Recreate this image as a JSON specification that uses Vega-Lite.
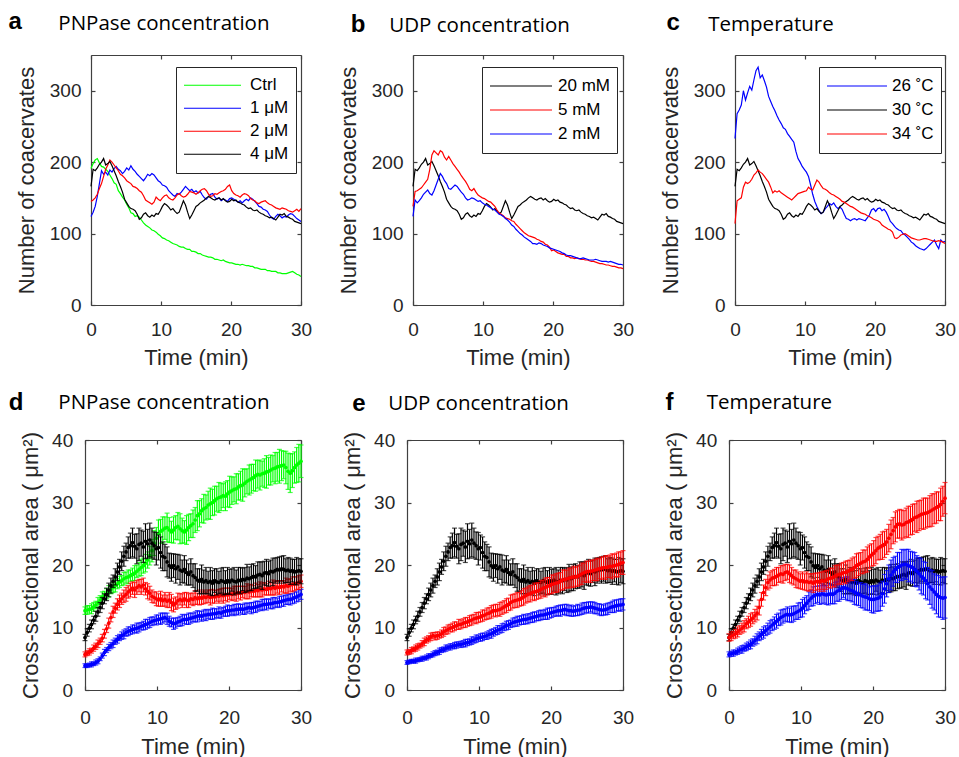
{
"$schema":"https://vega.github.io/schema/vega-lite/v6.json",
"background":"#ffffff",
"padding":{"left":8,"top":9,"right":5,"bottom":0},
"config":{
"view":{"stroke":null},
"axis":{"grid":false,"labelFont":"Liberation Sans","labelFontSize":19,"labelColor":"#262626","titleFont":"Liberation Sans","titleFontSize":22,"titleFontWeight":"normal","titleColor":"#262626","domainColor":"#404040","domainWidth":1.2,"tickColor":"#404040","tickWidth":1.2,"tickSize":-4,"labelFlush":false,"labelOverlap":false},
"title":{"font":"Open Sans","fontSize":20.5,"fontWeight":"normal","color":"#000000","anchor":"start","frame":"group","baseline":"alphabetic"},
"legend":{"orient":"none","symbolType":"stroke","symbolStrokeWidth":1.2,"labelFont":"Liberation Sans","labelFontSize":17,"labelColor":"#000000","strokeColor":"#262626","fillColor":"#ffffff","rowPadding":0,"padding":7},
"line":{"strokeWidth":1.2}
},
"datasets":{
"A":[{"t":0,"g":191,"b":124,"r":145},{"t":0.3,"g":198,"b":130,"r":147},{"t":0.6,"g":203,"b":138,"r":150},{"t":0.9,"g":205,"b":152,"r":155},{"t":1.2,"g":199,"b":170,"r":163},{"t":1.5,"g":194,"b":188,"r":170},{"t":1.8,"g":193,"b":183,"r":180},{"t":2.1,"g":190,"b":186,"r":190},{"t":2.4,"g":187,"b":182,"r":196},{"t":2.7,"g":182,"b":189,"r":203},{"t":3,"g":177,"b":186,"r":200},{"t":3.3,"g":171,"b":191,"r":196},{"t":3.6,"g":169,"b":194,"r":192},{"t":3.9,"g":160,"b":190,"r":188},{"t":4.2,"g":156,"b":188,"r":183},{"t":4.5,"g":151,"b":184,"r":181},{"t":4.8,"g":147,"b":187,"r":178},{"t":5.1,"g":141,"b":192,"r":174},{"t":5.4,"g":136,"b":189,"r":172},{"t":5.7,"g":129,"b":195,"r":170},{"t":6,"g":128,"b":190,"r":166},{"t":6.3,"g":124,"b":187,"r":165},{"t":6.6,"g":125,"b":183,"r":163},{"t":6.9,"g":123,"b":180,"r":160},{"t":7.2,"g":119,"b":177,"r":158},{"t":7.5,"g":115,"b":174,"r":153},{"t":7.8,"g":112,"b":178,"r":147},{"t":8.1,"g":110,"b":183,"r":145},{"t":8.4,"g":108,"b":181,"r":143},{"t":8.7,"g":105,"b":184,"r":141},{"t":9,"g":104,"b":182,"r":144},{"t":9.3,"g":102,"b":178,"r":151},{"t":9.6,"g":99,"b":174,"r":148},{"t":9.9,"g":97,"b":172,"r":146},{"t":10.2,"g":94,"b":168,"r":150},{"t":10.5,"g":93,"b":167,"r":153},{"t":10.8,"g":91,"b":165,"r":154},{"t":11.1,"g":90,"b":160,"r":150},{"t":11.4,"g":88,"b":157,"r":148},{"t":11.7,"g":86,"b":154,"r":147},{"t":12,"g":85,"b":152,"r":150},{"t":12.3,"g":84,"b":156,"r":154},{"t":12.6,"g":82,"b":155,"r":156},{"t":12.9,"g":81,"b":158,"r":153},{"t":13.2,"g":81,"b":162,"r":151},{"t":13.5,"g":79,"b":166,"r":152},{"t":13.8,"g":78,"b":163,"r":155},{"t":14.1,"g":78,"b":160,"r":159},{"t":14.4,"g":75,"b":162,"r":158},{"t":14.7,"g":75,"b":158,"r":157},{"t":15,"g":74,"b":160,"r":155},{"t":15.3,"g":72,"b":157,"r":157},{"t":15.6,"g":72,"b":159,"r":160},{"t":15.9,"g":70,"b":154,"r":162},{"t":16.2,"g":69,"b":150,"r":163},{"t":16.5,"g":68,"b":148,"r":160},{"t":16.8,"g":67,"b":152,"r":155},{"t":17.1,"g":67,"b":155,"r":152},{"t":17.4,"g":66,"b":156,"r":153},{"t":17.7,"g":64,"b":151,"r":156},{"t":18,"g":64,"b":148,"r":155},{"t":18.3,"g":63,"b":150,"r":157},{"t":18.6,"g":62,"b":146,"r":159},{"t":18.9,"g":63,"b":148,"r":160},{"t":19.2,"g":61,"b":147,"r":162},{"t":19.5,"g":60,"b":145,"r":166},{"t":19.8,"g":59,"b":149,"r":168},{"t":20.1,"g":59,"b":150,"r":160},{"t":20.4,"g":58,"b":148,"r":156},{"t":20.7,"g":57,"b":146,"r":154},{"t":21,"g":57,"b":144,"r":153},{"t":21.3,"g":56,"b":146,"r":151},{"t":21.6,"g":57,"b":143,"r":154},{"t":21.9,"g":56,"b":146,"r":156},{"t":22.2,"g":55,"b":148,"r":155},{"t":22.5,"g":55,"b":146,"r":153},{"t":22.8,"g":54,"b":150,"r":149},{"t":23.1,"g":54,"b":148,"r":147},{"t":23.4,"g":52,"b":145,"r":146},{"t":23.7,"g":52,"b":142,"r":143},{"t":24,"g":51,"b":138,"r":142},{"t":24.3,"g":50,"b":137,"r":144},{"t":24.6,"g":50,"b":134,"r":145},{"t":24.9,"g":50,"b":133,"r":146},{"t":25.2,"g":48,"b":131,"r":143},{"t":25.5,"g":48,"b":126,"r":141},{"t":25.8,"g":47,"b":122,"r":140},{"t":26.1,"g":47,"b":120,"r":138},{"t":26.4,"g":47,"b":124,"r":136},{"t":26.7,"g":45,"b":127,"r":135},{"t":27,"g":45,"b":125,"r":134},{"t":27.3,"g":44,"b":122,"r":136},{"t":27.6,"g":44,"b":124,"r":135},{"t":27.9,"g":44,"b":123,"r":134},{"t":28.2,"g":45,"b":126,"r":132},{"t":28.5,"g":46,"b":128,"r":131},{"t":28.8,"g":47,"b":127,"r":130},{"t":29.1,"g":45,"b":124,"r":132},{"t":29.4,"g":43,"b":121,"r":134},{"t":29.7,"g":42,"b":119,"r":131},{"t":30,"g":40,"b":117,"r":135}],
"B":[{"t":0,"r":138,"b":124},{"t":0.3,"r":159,"b":147},{"t":0.6,"r":160,"b":143},{"t":0.9,"r":162,"b":146},{"t":1.2,"r":164,"b":150},{"t":1.5,"r":168,"b":155},{"t":1.8,"r":172,"b":158},{"t":2.1,"r":176,"b":161},{"t":2.4,"r":190,"b":156},{"t":2.7,"r":210,"b":154},{"t":3,"r":216,"b":160},{"t":3.3,"r":213,"b":168},{"t":3.6,"r":210,"b":176},{"t":3.9,"r":216,"b":184},{"t":4.2,"r":214,"b":180},{"t":4.5,"r":207,"b":174},{"t":4.8,"r":203,"b":170},{"t":5.1,"r":208,"b":163},{"t":5.4,"r":203,"b":162},{"t":5.7,"r":198,"b":165},{"t":6,"r":194,"b":168},{"t":6.3,"r":190,"b":166},{"t":6.6,"r":186,"b":162},{"t":6.9,"r":181,"b":158},{"t":7.2,"r":177,"b":155},{"t":7.5,"r":173,"b":150},{"t":7.8,"r":168,"b":147},{"t":8.1,"r":162,"b":148},{"t":8.4,"r":160,"b":150},{"t":8.7,"r":163,"b":149},{"t":9,"r":158,"b":147},{"t":9.3,"r":154,"b":145},{"t":9.6,"r":152,"b":146},{"t":9.9,"r":150,"b":143},{"t":10.2,"r":149,"b":141},{"t":10.5,"r":147,"b":140},{"t":10.8,"r":145,"b":138},{"t":11.1,"r":144,"b":136},{"t":11.4,"r":141,"b":134},{"t":11.7,"r":138,"b":133},{"t":12,"r":133,"b":130},{"t":12.3,"r":129,"b":127},{"t":12.6,"r":127,"b":126},{"t":12.9,"r":125,"b":124},{"t":13.2,"r":122,"b":121},{"t":13.5,"r":121,"b":119},{"t":13.8,"r":120,"b":116},{"t":14.1,"r":118,"b":112},{"t":14.4,"r":117,"b":110},{"t":14.7,"r":113,"b":106},{"t":15,"r":110,"b":103},{"t":15.3,"r":107,"b":100},{"t":15.6,"r":104,"b":98},{"t":15.9,"r":101,"b":95},{"t":16.2,"r":99,"b":93},{"t":16.5,"r":97,"b":91},{"t":16.8,"r":96,"b":89},{"t":17.1,"r":95,"b":86},{"t":17.4,"r":94,"b":86},{"t":17.7,"r":92,"b":85},{"t":18,"r":91,"b":87},{"t":18.3,"r":89,"b":86},{"t":18.6,"r":88,"b":84},{"t":18.9,"r":85,"b":83},{"t":19.2,"r":84,"b":82},{"t":19.5,"r":81,"b":80},{"t":19.8,"r":76,"b":79},{"t":20.1,"r":77,"b":78},{"t":20.4,"r":75,"b":77},{"t":20.7,"r":73,"b":76},{"t":21,"r":72,"b":75},{"t":21.3,"r":71,"b":73},{"t":21.6,"r":71,"b":72},{"t":21.9,"r":68,"b":70},{"t":22.2,"r":68,"b":69},{"t":22.5,"r":66,"b":69},{"t":22.8,"r":66,"b":68},{"t":23.1,"r":65,"b":67},{"t":23.4,"r":66,"b":66},{"t":23.7,"r":65,"b":65},{"t":24,"r":64,"b":65},{"t":24.3,"r":64,"b":66},{"t":24.6,"r":63,"b":65},{"t":24.9,"r":63,"b":64},{"t":25.2,"r":62,"b":63},{"t":25.5,"r":61,"b":63},{"t":25.8,"r":61,"b":63},{"t":26.1,"r":60,"b":64},{"t":26.4,"r":59,"b":63},{"t":26.7,"r":58,"b":62},{"t":27,"r":58,"b":61},{"t":27.3,"r":57,"b":61},{"t":27.6,"r":56,"b":61},{"t":27.9,"r":56,"b":60},{"t":28.2,"r":55,"b":61},{"t":28.5,"r":54,"b":60},{"t":28.8,"r":54,"b":59},{"t":29.1,"r":53,"b":58},{"t":29.4,"r":52,"b":57},{"t":29.7,"r":52,"b":57},{"t":30,"r":51,"b":56}],
"C":[{"t":0,"b":233,"r":114},{"t":0.3,"b":268,"r":146},{"t":0.6,"b":273,"r":148},{"t":0.9,"b":280,"r":150},{"t":1.2,"b":300,"r":165},{"t":1.5,"b":287,"r":172},{"t":1.8,"b":297,"r":170},{"t":2.1,"b":306,"r":172},{"t":2.4,"b":301,"r":176},{"t":2.7,"b":315,"r":182},{"t":3,"b":328,"r":185},{"t":3.3,"b":333,"r":189},{"t":3.6,"b":318,"r":186},{"t":3.9,"b":322,"r":184},{"t":4.2,"b":314,"r":180},{"t":4.5,"b":305,"r":176},{"t":4.8,"b":292,"r":172},{"t":5.1,"b":285,"r":165},{"t":5.4,"b":278,"r":157},{"t":5.7,"b":272,"r":160},{"t":6,"b":265,"r":158},{"t":6.3,"b":259,"r":160},{"t":6.6,"b":254,"r":157},{"t":6.9,"b":248,"r":155},{"t":7.2,"b":246,"r":153},{"t":7.5,"b":240,"r":151},{"t":7.8,"b":236,"r":149},{"t":8.1,"b":232,"r":147},{"t":8.4,"b":228,"r":150},{"t":8.7,"b":215,"r":153},{"t":9,"b":205,"r":156},{"t":9.3,"b":200,"r":157},{"t":9.6,"b":194,"r":158},{"t":9.9,"b":190,"r":159},{"t":10.2,"b":186,"r":160},{"t":10.5,"b":180,"r":165},{"t":10.8,"b":168,"r":162},{"t":11.1,"b":155,"r":161},{"t":11.4,"b":145,"r":168},{"t":11.7,"b":138,"r":175},{"t":12,"b":132,"r":172},{"t":12.3,"b":128,"r":167},{"t":12.6,"b":130,"r":163},{"t":12.9,"b":135,"r":162},{"t":13.2,"b":138,"r":160},{"t":13.5,"b":142,"r":157},{"t":13.8,"b":140,"r":155},{"t":14.1,"b":143,"r":154},{"t":14.4,"b":138,"r":152},{"t":14.7,"b":135,"r":150},{"t":15,"b":137,"r":148},{"t":15.3,"b":134,"r":145},{"t":15.6,"b":127,"r":144},{"t":15.9,"b":121,"r":142},{"t":16.2,"b":120,"r":140},{"t":16.5,"b":118,"r":138},{"t":16.8,"b":120,"r":137},{"t":17.1,"b":121,"r":135},{"t":17.4,"b":119,"r":133},{"t":17.7,"b":121,"r":131},{"t":18,"b":120,"r":129},{"t":18.3,"b":119,"r":128},{"t":18.6,"b":118,"r":127},{"t":18.9,"b":122,"r":125},{"t":19.2,"b":126,"r":124},{"t":19.5,"b":133,"r":122},{"t":19.8,"b":135,"r":120},{"t":20.1,"b":131,"r":119},{"t":20.4,"b":135,"r":118},{"t":20.7,"b":136,"r":116},{"t":21,"b":132,"r":112},{"t":21.3,"b":134,"r":110},{"t":21.6,"b":130,"r":108},{"t":21.9,"b":124,"r":106},{"t":22.2,"b":117,"r":105},{"t":22.5,"b":114,"r":102},{"t":22.8,"b":110,"r":94},{"t":23.1,"b":107,"r":93},{"t":23.4,"b":105,"r":95},{"t":23.7,"b":104,"r":98},{"t":24,"b":100,"r":99},{"t":24.3,"b":98,"r":100},{"t":24.6,"b":95,"r":98},{"t":24.9,"b":92,"r":96},{"t":25.2,"b":88,"r":94},{"t":25.5,"b":86,"r":93},{"t":25.8,"b":83,"r":92},{"t":26.1,"b":81,"r":91},{"t":26.4,"b":79,"r":91},{"t":26.7,"b":78,"r":92},{"t":27,"b":77,"r":93},{"t":27.3,"b":79,"r":93},{"t":27.6,"b":82,"r":92},{"t":27.9,"b":85,"r":91},{"t":28.2,"b":88,"r":90},{"t":28.5,"b":91,"r":89},{"t":28.8,"b":84,"r":89},{"t":29.1,"b":79,"r":90},{"t":29.4,"b":91,"r":89},{"t":29.7,"b":88,"r":88},{"t":30,"b":89,"r":86}],
"KT":[{"t":0,"k":166},{"t":0.3,"k":190},{"t":0.6,"k":188},{"t":0.9,"k":192},{"t":1.2,"k":197},{"t":1.5,"k":200},{"t":1.8,"k":205},{"t":2.1,"k":196},{"t":2.4,"k":198},{"t":2.7,"k":201},{"t":3,"k":195},{"t":3.3,"k":188},{"t":3.6,"k":181},{"t":3.9,"k":173},{"t":4.2,"k":166},{"t":4.5,"k":158},{"t":4.8,"k":148},{"t":5.1,"k":143},{"t":5.4,"k":138},{"t":5.7,"k":135},{"t":6,"k":134},{"t":6.3,"k":132},{"t":6.6,"k":127},{"t":6.9,"k":120},{"t":7.2,"k":122},{"t":7.5,"k":127},{"t":7.8,"k":129},{"t":8.1,"k":125},{"t":8.4,"k":123},{"t":8.7,"k":126},{"t":9,"k":124},{"t":9.3,"k":128},{"t":9.6,"k":127},{"t":9.9,"k":132},{"t":10.2,"k":138},{"t":10.5,"k":142},{"t":10.8,"k":140},{"t":11.1,"k":137},{"t":11.4,"k":133},{"t":11.7,"k":135},{"t":12,"k":131},{"t":12.3,"k":128},{"t":12.6,"k":130},{"t":12.9,"k":138},{"t":13.2,"k":146},{"t":13.5,"k":140},{"t":13.8,"k":130},{"t":14.1,"k":121},{"t":14.4,"k":126},{"t":14.7,"k":132},{"t":15,"k":138},{"t":15.3,"k":140},{"t":15.6,"k":143},{"t":15.9,"k":145},{"t":16.2,"k":147},{"t":16.5,"k":150},{"t":16.8,"k":152},{"t":17.1,"k":150},{"t":17.4,"k":148},{"t":17.7,"k":147},{"t":18,"k":149},{"t":18.3,"k":150},{"t":18.6,"k":147},{"t":18.9,"k":149},{"t":19.2,"k":146},{"t":19.5,"k":144},{"t":19.8,"k":145},{"t":20.1,"k":148},{"t":20.4,"k":146},{"t":20.7,"k":147},{"t":21,"k":144},{"t":21.3,"k":143},{"t":21.6,"k":141},{"t":21.9,"k":140},{"t":22.2,"k":137},{"t":22.5,"k":135},{"t":22.8,"k":136},{"t":23.1,"k":133},{"t":23.4,"k":132},{"t":23.7,"k":133},{"t":24,"k":130},{"t":24.3,"k":128},{"t":24.6,"k":127},{"t":24.9,"k":125},{"t":25.2,"k":124},{"t":25.5,"k":122},{"t":25.8,"k":123},{"t":26.1,"k":121},{"t":26.4,"k":119},{"t":26.7,"k":123},{"t":27,"k":127},{"t":27.3,"k":126},{"t":27.6,"k":128},{"t":27.9,"k":124},{"t":28.2,"k":123},{"t":28.5,"k":121},{"t":28.8,"k":120},{"t":29.1,"k":117},{"t":29.4,"k":116},{"t":29.7,"k":115},{"t":30,"k":114}],
"D":[{"t":0,"g":12.7,"ge":0.6,"r":5.7,"re":0.4,"b":3.9,"be":0.3},{"t":0.3,"g":12.8,"ge":0.7,"r":5.9,"re":0.4,"b":3.9,"be":0.3},{"t":0.6,"g":12.9,"ge":0.6,"r":6.1,"re":0.5,"b":4.0,"be":0.3},{"t":0.9,"g":13.0,"ge":0.8,"r":6.3,"re":0.4,"b":4.1,"be":0.4},{"t":1.2,"g":13.3,"ge":0.7,"r":6.7,"re":0.5,"b":4.2,"be":0.3},{"t":1.5,"g":13.6,"ge":0.6,"r":7.0,"re":0.5,"b":4.4,"be":0.4},{"t":1.8,"g":14.0,"ge":0.8,"r":7.4,"re":0.6,"b":4.6,"be":0.4},{"t":2.1,"g":14.4,"ge":0.7,"r":7.8,"re":0.5,"b":5.0,"be":0.3},{"t":2.4,"g":14.8,"ge":0.9,"r":8.3,"re":0.6,"b":5.5,"be":0.4},{"t":2.7,"g":15.1,"ge":0.7,"r":9.0,"re":0.7,"b":6.0,"be":0.5},{"t":3,"g":15.4,"ge":0.8,"r":9.8,"re":0.6,"b":6.4,"be":0.4},{"t":3.3,"g":15.8,"ge":0.9,"r":10.7,"re":0.8,"b":6.8,"be":0.5},{"t":3.6,"g":16.1,"ge":0.7,"r":11.6,"re":0.7,"b":7.1,"be":0.5},{"t":3.9,"g":16.4,"ge":0.8,"r":12.5,"re":0.9,"b":7.4,"be":0.6},{"t":4.2,"g":16.7,"ge":1.0,"r":13.1,"re":0.8,"b":7.8,"be":0.5},{"t":4.5,"g":17.0,"ge":0.8,"r":13.7,"re":0.9,"b":8.1,"be":0.6},{"t":4.8,"g":17.3,"ge":0.9,"r":14.2,"re":1.0,"b":8.4,"be":0.5},{"t":5.1,"g":17.5,"ge":0.8,"r":14.6,"re":0.9,"b":8.7,"be":0.6},{"t":5.4,"g":17.8,"ge":1.0,"r":15.0,"re":1.0,"b":8.9,"be":0.7},{"t":5.7,"g":18.0,"ge":0.9,"r":15.3,"re":1.1,"b":9.2,"be":0.6},{"t":6,"g":18.1,"ge":1.1,"r":15.7,"re":1.0,"b":9.4,"be":0.7},{"t":6.3,"g":18.3,"ge":0.9,"r":16.0,"re":1.1,"b":9.5,"be":0.6},{"t":6.6,"g":18.5,"ge":1.0,"r":16.3,"re":1.0,"b":9.7,"be":0.7},{"t":6.9,"g":18.7,"ge":1.2,"r":16.0,"re":1.2,"b":9.8,"be":0.6},{"t":7.2,"g":19.0,"ge":1.0,"r":16.4,"re":1.1,"b":9.9,"be":0.8},{"t":7.5,"g":19.3,"ge":1.1,"r":16.7,"re":1.0,"b":10.0,"be":0.7},{"t":7.8,"g":19.6,"ge":1.3,"r":16.5,"re":1.2,"b":10.2,"be":0.6},{"t":8.1,"g":19.9,"ge":1.2,"r":16.8,"re":1.1,"b":10.3,"be":0.7},{"t":8.4,"g":20.3,"ge":1.4,"r":16.2,"re":1.0,"b":10.5,"be":0.8},{"t":8.7,"g":20.8,"ge":1.3,"r":15.8,"re":1.2,"b":10.6,"be":0.7},{"t":9,"g":21.5,"ge":1.5,"r":15.5,"re":1.1,"b":10.8,"be":0.8},{"t":9.3,"g":22.3,"ge":1.8,"r":15.0,"re":1.0,"b":11.0,"be":0.7},{"t":9.6,"g":23.5,"ge":2.0,"r":14.8,"re":0.9,"b":11.1,"be":0.6},{"t":9.9,"g":24.3,"ge":1.7,"r":14.6,"re":1.1,"b":11.2,"be":0.8},{"t":10.2,"g":25.0,"ge":2.2,"r":14.4,"re":1.0,"b":11.3,"be":0.7},{"t":10.5,"g":25.4,"ge":1.9,"r":14.6,"re":1.2,"b":11.4,"be":0.9},{"t":10.8,"g":25.6,"ge":2.1,"r":14.3,"re":0.9,"b":11.5,"be":0.8},{"t":11.1,"g":25.9,"ge":1.8,"r":14.5,"re":1.1,"b":11.6,"be":0.7},{"t":11.4,"g":26.0,"ge":2.3,"r":14.2,"re":1.0,"b":11.4,"be":0.9},{"t":11.7,"g":25.6,"ge":2.0,"r":14.4,"re":1.2,"b":11.0,"be":0.8},{"t":12,"g":25.3,"ge":1.7,"r":14.0,"re":1.3,"b":10.8,"be":0.7},{"t":12.3,"g":25.6,"ge":2.1,"r":13.6,"re":1.1,"b":10.6,"be":0.9},{"t":12.6,"g":26.0,"ge":1.9,"r":13.9,"re":1.0,"b":10.7,"be":0.8},{"t":12.9,"g":26.2,"ge":2.2,"r":14.3,"re":1.2,"b":10.9,"be":0.7},{"t":13.2,"g":25.8,"ge":2.4,"r":14.5,"re":0.9,"b":11.0,"be":0.8},{"t":13.5,"g":25.5,"ge":2.0,"r":14.3,"re":1.1,"b":11.2,"be":0.9},{"t":13.8,"g":25.3,"ge":1.8,"r":14.6,"re":1.0,"b":11.3,"be":0.7},{"t":14.1,"g":25.6,"ge":2.3,"r":14.4,"re":1.2,"b":11.3,"be":0.8},{"t":14.4,"g":26.0,"ge":2.1,"r":14.3,"re":1.1,"b":11.4,"be":0.9},{"t":14.7,"g":26.3,"ge":1.9,"r":14.6,"re":0.9,"b":11.5,"be":0.8},{"t":15,"g":26.6,"ge":2.2,"r":14.5,"re":1.0,"b":11.6,"be":0.7},{"t":15.3,"g":27.2,"ge":2.0,"r":14.8,"re":1.1,"b":11.7,"be":0.8},{"t":15.6,"g":27.9,"ge":2.4,"r":14.6,"re":0.9,"b":11.8,"be":0.9},{"t":15.9,"g":28.2,"ge":2.1,"r":14.8,"re":1.2,"b":11.9,"be":0.7},{"t":16.2,"g":28.7,"ge":1.9,"r":14.7,"re":1.0,"b":11.8,"be":0.8},{"t":16.5,"g":29.0,"ge":2.3,"r":14.9,"re":1.1,"b":12.0,"be":0.8},{"t":16.8,"g":29.2,"ge":2.0,"r":14.8,"re":0.9,"b":12.0,"be":0.9},{"t":17.1,"g":29.6,"ge":2.2,"r":15.0,"re":1.0,"b":12.1,"be":0.7},{"t":17.4,"g":29.8,"ge":2.5,"r":14.8,"re":1.2,"b":12.1,"be":0.8},{"t":17.7,"g":30.0,"ge":2.1,"r":15.0,"re":1.1,"b":12.2,"be":0.9},{"t":18,"g":30.3,"ge":2.3,"r":14.9,"re":1.0,"b":12.2,"be":0.8},{"t":18.3,"g":30.6,"ge":2.0,"r":15.1,"re":0.9,"b":12.3,"be":0.7},{"t":18.6,"g":30.8,"ge":2.4,"r":15.0,"re":1.1,"b":12.4,"be":0.9},{"t":18.9,"g":30.9,"ge":2.2,"r":15.2,"re":1.0,"b":12.3,"be":0.8},{"t":19.2,"g":31.1,"ge":1.9,"r":15.1,"re":1.2,"b":12.5,"be":0.7},{"t":19.5,"g":31.0,"ge":2.3,"r":15.3,"re":1.0,"b":12.6,"be":0.8},{"t":19.8,"g":31.4,"ge":2.1,"r":15.2,"re":1.1,"b":12.7,"be":0.9},{"t":20.1,"g":31.7,"ge":2.5,"r":15.4,"re":0.9,"b":12.7,"be":0.8},{"t":20.4,"g":31.9,"ge":2.2,"r":15.3,"re":1.0,"b":12.8,"be":0.7},{"t":20.7,"g":32.1,"ge":2.0,"r":15.5,"re":1.1,"b":12.8,"be":0.9},{"t":21,"g":32.2,"ge":2.4,"r":15.4,"re":1.2,"b":12.9,"be":0.8},{"t":21.3,"g":32.5,"ge":2.1,"r":15.6,"re":1.0,"b":12.9,"be":0.9},{"t":21.6,"g":32.7,"ge":2.3,"r":15.5,"re":1.1,"b":13.0,"be":0.7},{"t":21.9,"g":32.8,"ge":2.6,"r":15.7,"re":0.9,"b":12.9,"be":0.8},{"t":22.2,"g":33.1,"ge":2.2,"r":15.6,"re":1.0,"b":13.0,"be":0.9},{"t":22.5,"g":33.4,"ge":2.0,"r":15.8,"re":1.2,"b":13.1,"be":0.8},{"t":22.8,"g":33.6,"ge":2.4,"r":15.7,"re":1.1,"b":13.2,"be":0.7},{"t":23.1,"g":33.8,"ge":2.3,"r":15.9,"re":1.0,"b":13.1,"be":0.9},{"t":23.4,"g":34.0,"ge":2.1,"r":15.8,"re":0.9,"b":13.2,"be":0.8},{"t":23.7,"g":34.3,"ge":2.5,"r":16.0,"re":1.1,"b":13.3,"be":0.9},{"t":24,"g":34.5,"ge":2.2,"r":15.9,"re":1.0,"b":13.4,"be":0.8},{"t":24.3,"g":34.4,"ge":2.4,"r":16.1,"re":1.2,"b":13.5,"be":0.7},{"t":24.6,"g":34.6,"ge":2.0,"r":16.0,"re":1.1,"b":13.6,"be":0.9},{"t":24.9,"g":34.7,"ge":2.3,"r":16.2,"re":1.0,"b":13.7,"be":0.8},{"t":25.2,"g":34.9,"ge":2.6,"r":16.1,"re":0.9,"b":13.7,"be":0.9},{"t":25.5,"g":35.0,"ge":2.2,"r":16.3,"re":1.1,"b":13.8,"be":0.7},{"t":25.8,"g":35.2,"ge":2.4,"r":16.2,"re":1.0,"b":13.8,"be":0.8},{"t":26.1,"g":35.4,"ge":2.1,"r":16.4,"re":1.2,"b":13.9,"be":0.9},{"t":26.4,"g":35.5,"ge":2.5,"r":16.3,"re":1.1,"b":14.0,"be":0.8},{"t":26.7,"g":35.7,"ge":2.3,"r":16.5,"re":1.0,"b":14.0,"be":0.7},{"t":27,"g":35.8,"ge":2.7,"r":16.4,"re":1.1,"b":14.1,"be":0.9},{"t":27.3,"g":35.9,"ge":2.4,"r":16.6,"re":0.9,"b":14.2,"be":0.8},{"t":27.6,"g":36.0,"ge":2.2,"r":16.5,"re":1.0,"b":14.3,"be":0.9},{"t":27.9,"g":35.6,"ge":2.6,"r":16.7,"re":1.2,"b":14.4,"be":0.7},{"t":28.2,"g":35.0,"ge":2.9,"r":16.6,"re":1.1,"b":14.5,"be":0.8},{"t":28.5,"g":34.7,"ge":3.1,"r":16.8,"re":1.0,"b":14.5,"be":0.9},{"t":28.8,"g":35.1,"ge":2.7,"r":16.9,"re":1.2,"b":14.6,"be":0.8},{"t":29.1,"g":35.6,"ge":2.5,"r":17.0,"re":1.1,"b":14.8,"be":0.9},{"t":29.4,"g":36.0,"ge":2.8,"r":17.1,"re":1.0,"b":14.9,"be":0.8},{"t":29.7,"g":36.3,"ge":3.0,"r":17.2,"re":1.1,"b":15.1,"be":0.9},{"t":30,"g":36.6,"ge":2.6,"r":17.4,"re":1.0,"b":15.3,"be":0.8}],
"E":[{"t":0,"r":6.0,"re":0.4,"b":4.4,"be":0.3},{"t":0.3,"r":6.1,"re":0.4,"b":4.5,"be":0.3},{"t":0.6,"r":6.3,"re":0.5,"b":4.6,"be":0.3},{"t":0.9,"r":6.5,"re":0.4,"b":4.6,"be":0.3},{"t":1.2,"r":6.7,"re":0.5,"b":4.7,"be":0.4},{"t":1.5,"r":6.9,"re":0.5,"b":4.8,"be":0.3},{"t":1.8,"r":7.1,"re":0.4,"b":4.9,"be":0.3},{"t":2.1,"r":7.4,"re":0.5,"b":5.0,"be":0.4},{"t":2.4,"r":7.7,"re":0.6,"b":5.1,"be":0.3},{"t":2.7,"r":8.0,"re":0.5,"b":5.2,"be":0.4},{"t":3,"r":8.2,"re":0.5,"b":5.4,"be":0.4},{"t":3.3,"r":8.5,"re":0.6,"b":5.5,"be":0.3},{"t":3.6,"r":8.7,"re":0.5,"b":5.7,"be":0.4},{"t":3.9,"r":8.6,"re":0.6,"b":5.9,"be":0.4},{"t":4.2,"r":8.7,"re":0.6,"b":6.0,"be":0.4},{"t":4.5,"r":8.8,"re":0.5,"b":6.2,"be":0.5},{"t":4.8,"r":9.0,"re":0.6,"b":6.4,"be":0.4},{"t":5.1,"r":9.3,"re":0.7,"b":6.5,"be":0.4},{"t":5.4,"r":9.5,"re":0.6,"b":6.7,"be":0.5},{"t":5.7,"r":9.7,"re":0.7,"b":6.8,"be":0.4},{"t":6,"r":9.9,"re":0.6,"b":6.9,"be":0.5},{"t":6.3,"r":10.0,"re":0.7,"b":7.0,"be":0.4},{"t":6.6,"r":10.2,"re":0.7,"b":7.1,"be":0.5},{"t":6.9,"r":10.3,"re":0.6,"b":7.2,"be":0.5},{"t":7.2,"r":10.5,"re":0.8,"b":7.3,"be":0.4},{"t":7.5,"r":10.5,"re":0.7,"b":7.3,"be":0.5},{"t":7.8,"r":10.7,"re":0.7,"b":7.4,"be":0.5},{"t":8.1,"r":10.8,"re":0.8,"b":7.5,"be":0.6},{"t":8.4,"r":10.9,"re":0.7,"b":7.6,"be":0.5},{"t":8.7,"r":11.1,"re":0.8,"b":7.7,"be":0.5},{"t":9,"r":11.2,"re":0.8,"b":7.9,"be":0.6},{"t":9.3,"r":11.4,"re":0.7,"b":8.0,"be":0.5},{"t":9.6,"r":11.5,"re":0.9,"b":8.2,"be":0.6},{"t":9.9,"r":11.6,"re":0.8,"b":8.3,"be":0.5},{"t":10.2,"r":11.7,"re":0.8,"b":8.4,"be":0.6},{"t":10.5,"r":11.9,"re":0.9,"b":8.5,"be":0.6},{"t":10.8,"r":12.0,"re":0.8,"b":8.6,"be":0.5},{"t":11.1,"r":12.2,"re":0.9,"b":8.7,"be":0.6},{"t":11.4,"r":12.3,"re":0.9,"b":8.9,"be":0.6},{"t":11.7,"r":12.5,"re":1.0,"b":9.0,"be":0.7},{"t":12,"r":12.7,"re":0.9,"b":9.2,"be":0.6},{"t":12.3,"r":12.7,"re":1.0,"b":9.4,"be":0.6},{"t":12.6,"r":12.8,"re":0.9,"b":9.6,"be":0.7},{"t":12.9,"r":12.9,"re":1.1,"b":9.7,"be":0.6},{"t":13.2,"r":13.1,"re":1.0,"b":9.9,"be":0.7},{"t":13.5,"r":13.3,"re":1.0,"b":10.1,"be":0.6},{"t":13.8,"r":13.5,"re":1.1,"b":10.3,"be":0.7},{"t":14.1,"r":13.7,"re":1.0,"b":10.4,"be":0.7},{"t":14.4,"r":14.0,"re":1.2,"b":10.6,"be":0.6},{"t":14.7,"r":14.2,"re":1.1,"b":10.8,"be":0.7},{"t":15,"r":14.3,"re":1.1,"b":10.9,"be":0.7},{"t":15.3,"r":14.4,"re":1.2,"b":11.0,"be":0.8},{"t":15.6,"r":14.5,"re":1.1,"b":11.1,"be":0.7},{"t":15.9,"r":14.7,"re":1.2,"b":11.2,"be":0.7},{"t":16.2,"r":14.9,"re":1.3,"b":11.3,"be":0.8},{"t":16.5,"r":15.1,"re":1.2,"b":11.3,"be":0.7},{"t":16.8,"r":15.3,"re":1.2,"b":11.4,"be":0.8},{"t":17.1,"r":15.4,"re":1.3,"b":11.5,"be":0.7},{"t":17.4,"r":15.6,"re":1.2,"b":11.6,"be":0.8},{"t":17.7,"r":15.7,"re":1.4,"b":11.7,"be":0.8},{"t":18,"r":15.8,"re":1.3,"b":11.8,"be":0.7},{"t":18.3,"r":15.9,"re":1.3,"b":11.9,"be":0.8},{"t":18.6,"r":16.1,"re":1.4,"b":12.0,"be":0.8},{"t":18.9,"r":16.3,"re":1.3,"b":12.0,"be":0.7},{"t":19.2,"r":16.4,"re":1.5,"b":12.1,"be":0.8},{"t":19.5,"r":16.6,"re":1.4,"b":12.2,"be":0.9},{"t":19.8,"r":16.7,"re":1.3,"b":12.3,"be":0.8},{"t":20.1,"r":16.9,"re":1.5,"b":12.4,"be":0.8},{"t":20.4,"r":17.0,"re":1.4,"b":12.5,"be":0.7},{"t":20.7,"r":17.1,"re":1.5,"b":12.6,"be":0.8},{"t":21,"r":17.2,"re":1.5,"b":12.7,"be":0.8},{"t":21.3,"r":17.4,"re":1.4,"b":12.7,"be":0.9},{"t":21.6,"r":17.6,"re":1.6,"b":12.8,"be":0.8},{"t":21.9,"r":17.7,"re":1.5,"b":12.9,"be":0.8},{"t":22.2,"r":17.8,"re":1.4,"b":12.8,"be":0.9},{"t":22.5,"r":17.9,"re":1.6,"b":12.7,"be":0.8},{"t":22.8,"r":18.0,"re":1.5,"b":12.7,"be":0.9},{"t":23.1,"r":18.1,"re":1.7,"b":12.6,"be":0.8},{"t":23.4,"r":18.1,"re":1.5,"b":12.7,"be":0.8},{"t":23.7,"r":18.2,"re":1.6,"b":12.8,"be":0.9},{"t":24,"r":18.4,"re":1.6,"b":12.8,"be":0.8},{"t":24.3,"r":18.6,"re":1.7,"b":13.0,"be":0.9},{"t":24.6,"r":18.8,"re":1.5,"b":13.1,"be":0.9},{"t":24.9,"r":18.9,"re":1.7,"b":13.2,"be":0.8},{"t":25.2,"r":19.0,"re":1.6,"b":13.2,"be":0.9},{"t":25.5,"r":19.0,"re":1.8,"b":13.3,"be":0.8},{"t":25.8,"r":19.1,"re":1.6,"b":13.2,"be":0.9},{"t":26.1,"r":19.2,"re":1.7,"b":13.1,"be":0.9},{"t":26.4,"r":19.3,"re":1.8,"b":13.0,"be":0.8},{"t":26.7,"r":19.4,"re":1.6,"b":12.9,"be":0.9},{"t":27,"r":19.5,"re":1.8,"b":12.8,"be":0.9},{"t":27.3,"r":19.6,"re":1.7,"b":12.8,"be":0.8},{"t":27.6,"r":19.6,"re":1.9,"b":12.9,"be":0.9},{"t":27.9,"r":19.7,"re":1.7,"b":13.0,"be":0.9},{"t":28.2,"r":19.8,"re":1.8,"b":13.2,"be":0.8},{"t":28.5,"r":19.8,"re":2.0,"b":13.3,"be":0.9},{"t":28.8,"r":19.9,"re":1.8,"b":13.4,"be":1.0},{"t":29.1,"r":20.0,"re":1.9,"b":13.5,"be":0.9},{"t":29.4,"r":20.1,"re":2.0,"b":13.6,"be":0.9},{"t":29.7,"r":20.3,"re":1.8,"b":13.6,"be":1.0},{"t":30,"r":20.4,"re":1.9,"b":13.7,"be":0.9}],
"F":[{"t":0,"b":5.7,"be":0.4,"r":8.4,"re":0.6},{"t":0.3,"b":5.8,"be":0.4,"r":8.6,"re":0.7},{"t":0.6,"b":5.9,"be":0.5,"r":8.8,"re":0.6},{"t":0.9,"b":6.0,"be":0.4,"r":9.0,"re":0.7},{"t":1.2,"b":6.2,"be":0.5,"r":9.3,"re":0.8},{"t":1.5,"b":6.4,"be":0.5,"r":9.6,"re":0.7},{"t":1.8,"b":6.5,"be":0.6,"r":9.9,"re":0.8},{"t":2.1,"b":6.7,"be":0.5,"r":10.2,"re":0.9},{"t":2.4,"b":6.9,"be":0.6,"r":10.6,"re":0.8},{"t":2.7,"b":7.1,"be":0.6,"r":10.9,"re":0.9},{"t":3,"b":7.3,"be":0.7,"r":11.2,"re":1.0},{"t":3.3,"b":7.6,"be":0.6,"r":11.5,"re":0.9},{"t":3.6,"b":7.9,"be":0.7,"r":11.9,"re":1.0},{"t":3.9,"b":8.2,"be":0.8,"r":12.3,"re":1.1},{"t":4.2,"b":8.6,"be":0.7,"r":13.2,"re":1.2},{"t":4.5,"b":8.9,"be":0.8,"r":14.5,"re":1.1},{"t":4.8,"b":9.2,"be":0.9,"r":15.6,"re":1.2},{"t":5.1,"b":9.5,"be":0.8,"r":16.4,"re":1.3},{"t":5.4,"b":9.8,"be":0.9,"r":17.2,"re":1.2},{"t":5.7,"b":10.1,"be":1.0,"r":17.6,"re":1.3},{"t":6,"b":10.4,"be":0.9,"r":17.9,"re":1.2},{"t":6.3,"b":10.7,"be":1.0,"r":18.0,"re":1.3},{"t":6.6,"b":11.0,"be":1.1,"r":18.2,"re":1.4},{"t":6.9,"b":11.3,"be":1.0,"r":18.4,"re":1.2},{"t":7.2,"b":11.6,"be":1.2,"r":18.6,"re":1.3},{"t":7.5,"b":11.8,"be":1.1,"r":18.5,"re":1.4},{"t":7.8,"b":12.0,"be":1.0,"r":18.8,"re":1.3},{"t":8.1,"b":12.1,"be":1.2,"r":18.9,"re":1.2},{"t":8.4,"b":12.0,"be":1.1,"r":18.6,"re":1.4},{"t":8.7,"b":12.1,"be":1.3,"r":18.3,"re":1.3},{"t":9,"b":12.2,"be":1.2,"r":18.0,"re":1.2},{"t":9.3,"b":12.4,"be":1.1,"r":17.8,"re":1.4},{"t":9.6,"b":12.6,"be":1.3,"r":17.6,"re":1.3},{"t":9.9,"b":12.8,"be":1.2,"r":17.4,"re":1.2},{"t":10.2,"b":13.1,"be":1.4,"r":17.5,"re":1.4},{"t":10.5,"b":13.5,"be":1.3,"r":17.3,"re":1.3},{"t":10.8,"b":13.9,"be":1.2,"r":17.4,"re":1.5},{"t":11.1,"b":14.3,"be":1.4,"r":17.2,"re":1.4},{"t":11.4,"b":14.7,"be":1.3,"r":17.3,"re":1.3},{"t":11.7,"b":15.0,"be":1.5,"r":17.1,"re":1.5},{"t":12,"b":15.2,"be":1.4,"r":17.3,"re":1.4},{"t":12.3,"b":15.3,"be":1.3,"r":17.4,"re":1.3},{"t":12.6,"b":15.2,"be":1.5,"r":17.3,"re":1.5},{"t":12.9,"b":15.4,"be":1.6,"r":17.5,"re":1.4},{"t":13.2,"b":15.3,"be":1.4,"r":17.4,"re":1.6},{"t":13.5,"b":15.2,"be":1.5,"r":17.6,"re":1.5},{"t":13.8,"b":15.3,"be":1.7,"r":17.8,"re":1.4},{"t":14.1,"b":15.4,"be":1.6,"r":17.9,"re":1.6},{"t":14.4,"b":15.3,"be":1.5,"r":18.0,"re":1.5},{"t":14.7,"b":15.5,"be":1.7,"r":18.2,"re":1.7},{"t":15,"b":15.8,"be":1.6,"r":18.4,"re":1.6},{"t":15.3,"b":16.0,"be":1.8,"r":18.5,"re":1.5},{"t":15.6,"b":16.2,"be":1.7,"r":18.6,"re":1.7},{"t":15.9,"b":16.4,"be":1.6,"r":18.8,"re":1.6},{"t":16.2,"b":16.3,"be":1.8,"r":18.8,"re":1.8},{"t":16.5,"b":16.2,"be":1.9,"r":19.0,"re":1.7},{"t":16.8,"b":16.0,"be":1.7,"r":19.2,"re":1.6},{"t":17.1,"b":15.9,"be":1.8,"r":19.3,"re":1.8},{"t":17.4,"b":15.7,"be":2.0,"r":19.6,"re":1.7},{"t":17.7,"b":15.5,"be":1.9,"r":19.9,"re":1.9},{"t":18,"b":15.3,"be":1.8,"r":20.1,"re":1.8},{"t":18.3,"b":15.2,"be":2.0,"r":20.3,"re":1.7},{"t":18.6,"b":15.0,"be":1.9,"r":20.5,"re":1.9},{"t":18.9,"b":14.9,"be":2.1,"r":20.6,"re":1.8},{"t":19.2,"b":14.8,"be":2.0,"r":20.9,"re":2.0},{"t":19.5,"b":14.6,"be":1.9,"r":21.3,"re":1.9},{"t":19.8,"b":14.5,"be":2.1,"r":21.6,"re":1.8},{"t":20.1,"b":14.5,"be":2.2,"r":21.9,"re":2.0},{"t":20.4,"b":14.6,"be":2.0,"r":22.3,"re":2.1},{"t":20.7,"b":14.7,"be":2.1,"r":22.7,"re":1.9},{"t":21,"b":14.9,"be":2.2,"r":22.9,"re":2.0},{"t":21.3,"b":15.4,"be":2.0,"r":23.1,"re":2.2},{"t":21.6,"b":16.2,"be":2.3,"r":23.3,"re":2.1},{"t":21.9,"b":17.0,"be":2.1,"r":23.7,"re":2.0},{"t":22.2,"b":17.8,"be":2.2,"r":24.3,"re":2.2},{"t":22.5,"b":18.4,"be":2.4,"r":24.9,"re":2.3},{"t":22.8,"b":18.9,"be":2.3,"r":25.5,"re":2.1},{"t":23.1,"b":19.3,"be":2.1,"r":26.1,"re":2.4},{"t":23.4,"b":19.6,"be":2.4,"r":26.5,"re":2.2},{"t":23.7,"b":19.8,"be":2.2,"r":26.6,"re":2.3},{"t":24,"b":20.0,"be":2.5,"r":26.4,"re":2.4},{"t":24.3,"b":20.1,"be":2.3,"r":26.5,"re":2.2},{"t":24.6,"b":20.1,"be":2.4,"r":26.8,"re":2.3},{"t":24.9,"b":19.9,"be":2.6,"r":26.9,"re":2.5},{"t":25.2,"b":19.8,"be":2.4,"r":27.1,"re":2.3},{"t":25.5,"b":19.6,"be":2.5,"r":27.3,"re":2.4},{"t":25.8,"b":19.3,"be":2.7,"r":27.6,"re":2.2},{"t":26.1,"b":19.0,"be":2.5,"r":27.7,"re":2.5},{"t":26.4,"b":18.6,"be":2.6,"r":27.9,"re":2.4},{"t":26.7,"b":18.2,"be":2.8,"r":28.1,"re":2.3},{"t":27,"b":17.9,"be":2.7,"r":28.2,"re":2.5},{"t":27.3,"b":17.5,"be":2.9,"r":28.3,"re":2.4},{"t":27.6,"b":17.0,"be":2.6,"r":28.4,"re":2.3},{"t":27.9,"b":16.5,"be":2.8,"r":28.6,"re":2.5},{"t":28.2,"b":16.1,"be":3.0,"r":28.8,"re":2.6},{"t":28.5,"b":15.7,"be":2.9,"r":29.0,"re":2.4},{"t":28.8,"b":15.3,"be":3.1,"r":29.2,"re":2.5},{"t":29.1,"b":15.0,"be":3.3,"r":29.4,"re":2.3},{"t":29.4,"b":14.8,"be":3.2,"r":29.7,"re":2.6},{"t":29.7,"b":14.7,"be":3.4,"r":30.2,"re":2.4},{"t":30,"b":14.8,"be":3.3,"r":30.7,"re":2.5}],
"KB":[{"t":0,"k":8.4,"ke":0.5},{"t":0.3,"k":9.2,"ke":0.6},{"t":0.6,"k":9.9,"ke":0.6},{"t":0.9,"k":10.5,"ke":0.7},{"t":1.2,"k":11.2,"ke":0.6},{"t":1.5,"k":11.8,"ke":0.8},{"t":1.8,"k":12.5,"ke":0.7},{"t":2.1,"k":13.2,"ke":0.8},{"t":2.4,"k":13.9,"ke":0.9},{"t":2.7,"k":14.6,"ke":0.8},{"t":3,"k":15.3,"ke":1.0},{"t":3.3,"k":16.0,"ke":1.1},{"t":3.6,"k":16.7,"ke":1.2},{"t":3.9,"k":17.4,"ke":1.0},{"t":4.2,"k":18.1,"ke":1.3},{"t":4.5,"k":18.9,"ke":1.4},{"t":4.8,"k":19.7,"ke":1.2},{"t":5.1,"k":20.6,"ke":1.5},{"t":5.4,"k":21.4,"ke":1.6},{"t":5.7,"k":22.1,"ke":1.4},{"t":6,"k":22.8,"ke":1.7},{"t":6.3,"k":23.1,"ke":2.0},{"t":6.6,"k":23.6,"ke":2.3},{"t":6.9,"k":23.0,"ke":1.9},{"t":7.2,"k":22.6,"ke":2.4},{"t":7.5,"k":23.3,"ke":2.6},{"t":7.8,"k":23.5,"ke":2.1},{"t":8.1,"k":22.9,"ke":2.5},{"t":8.4,"k":23.8,"ke":2.8},{"t":8.7,"k":23.4,"ke":2.3},{"t":9,"k":24.0,"ke":2.7},{"t":9.3,"k":23.5,"ke":2.4},{"t":9.6,"k":23.1,"ke":2.2},{"t":9.9,"k":22.6,"ke":2.6},{"t":10.2,"k":22.8,"ke":2.0},{"t":10.5,"k":22.0,"ke":2.5},{"t":10.8,"k":21.4,"ke":2.3},{"t":11.1,"k":21.2,"ke":2.1},{"t":11.4,"k":20.5,"ke":2.4},{"t":11.7,"k":19.9,"ke":2.0},{"t":12,"k":19.6,"ke":2.2},{"t":12.3,"k":19.9,"ke":1.9},{"t":12.6,"k":19.4,"ke":2.3},{"t":12.9,"k":19.7,"ke":2.0},{"t":13.2,"k":19.2,"ke":2.4},{"t":13.5,"k":19.0,"ke":1.8},{"t":13.8,"k":19.3,"ke":2.2},{"t":14.1,"k":18.8,"ke":2.0},{"t":14.4,"k":18.5,"ke":1.7},{"t":14.7,"k":18.9,"ke":2.1},{"t":15,"k":18.3,"ke":1.9},{"t":15.3,"k":18.0,"ke":2.2},{"t":15.6,"k":17.6,"ke":1.8},{"t":15.9,"k":17.4,"ke":2.0},{"t":16.2,"k":17.7,"ke":2.3},{"t":16.5,"k":17.3,"ke":1.9},{"t":16.8,"k":17.5,"ke":2.1},{"t":17.1,"k":17.2,"ke":1.8},{"t":17.4,"k":17.4,"ke":2.2},{"t":17.7,"k":17.1,"ke":2.0},{"t":18,"k":17.5,"ke":1.9},{"t":18.3,"k":17.3,"ke":2.1},{"t":18.6,"k":17.2,"ke":1.8},{"t":18.9,"k":17.5,"ke":2.0},{"t":19.2,"k":17.4,"ke":2.2},{"t":19.5,"k":17.2,"ke":1.9},{"t":19.8,"k":17.5,"ke":2.1},{"t":20.1,"k":17.3,"ke":2.0},{"t":20.4,"k":17.6,"ke":1.8},{"t":20.7,"k":17.4,"ke":2.2},{"t":21,"k":17.3,"ke":1.9},{"t":21.3,"k":17.6,"ke":2.0},{"t":21.6,"k":17.5,"ke":2.1},{"t":21.9,"k":17.7,"ke":1.8},{"t":22.2,"k":17.6,"ke":2.0},{"t":22.5,"k":17.9,"ke":2.2},{"t":22.8,"k":17.8,"ke":1.9},{"t":23.1,"k":18.0,"ke":2.1},{"t":23.4,"k":18.2,"ke":2.0},{"t":23.7,"k":18.1,"ke":1.8},{"t":24,"k":18.4,"ke":2.1},{"t":24.3,"k":18.5,"ke":2.0},{"t":24.6,"k":18.3,"ke":2.2},{"t":24.9,"k":18.7,"ke":1.9},{"t":25.2,"k":18.8,"ke":2.1},{"t":25.5,"k":18.6,"ke":2.0},{"t":25.8,"k":19.0,"ke":1.8},{"t":26.1,"k":18.9,"ke":2.2},{"t":26.4,"k":19.1,"ke":2.0},{"t":26.7,"k":19.3,"ke":1.9},{"t":27,"k":19.2,"ke":2.1},{"t":27.3,"k":19.4,"ke":2.0},{"t":27.6,"k":19.3,"ke":2.2},{"t":27.9,"k":19.1,"ke":1.9},{"t":28.2,"k":19.2,"ke":2.0},{"t":28.5,"k":19.0,"ke":2.1},{"t":28.8,"k":19.1,"ke":1.8},{"t":29.1,"k":18.9,"ke":2.0},{"t":29.4,"k":19.0,"ke":2.2},{"t":29.7,"k":19.1,"ke":1.9},{"t":30,"k":19.0,"ke":2.0}]
},
"columns":1,
"spacing":21,
"resolve":{"scale":{"color":"independent"}},
"concat":[
{"hconcat":[
{"width":210,"height":250,
"title":{"text":"PNPase concentration","dx":-32.7,"offset":-25.1},
"layer":[
{"data":{"name":"A"},"mark":"line","encoding":{
"x":{"field":"t","type":"quantitative","scale":{"domain":[0,30],"nice":false},"axis":{"orient":"bottom","title":"Time (min)","values":[0,10,20,30],"labelPadding":19.5,"titlePadding":8}},
"y":{"field":"g","type":"quantitative","scale":{"domain":[0,350],"nice":false},"axis":{"orient":"left","title":"Number of coacervates","values":[0,100,200,300],"labelPadding":14,"titlePadding":11}},
"color":{"datum":"Ctrl","type":"nominal","scale":{"domain":["Ctrl","1 μM","2 μM","4 μM"],"range":["#00ff00","#0000ff","#ff0000","#000000"]},"legend":{"title":null,"legendX":85,"legendY":12,"symbolSize":3249,"clipHeight":22.5,"labelOffset":8}}}},
{"data":{"name":"A"},"mark":"line","encoding":{
"x":{"field":"t","type":"quantitative","axis":{"orient":"top","labels":false,"values":[0,10,20,30],"title":"a","titleFont":"Liberation Sans","titleFontWeight":"bold","titleFontSize":24,"titleColor":"#000000","titleAngle":0,"titleAlign":"left","titleBaseline":"alphabetic","titleX":-83,"titleY":-26.5}},
"y":{"field":"b","type":"quantitative","axis":{"orient":"right","labels":false,"values":[0,100,200,300],"title":null}},
"color":{"datum":"1 μM","type":"nominal"}}},
{"data":{"name":"A"},"mark":"line","encoding":{"x":{"field":"t","type":"quantitative","axis":null},"y":{"field":"r","type":"quantitative","axis":null},"color":{"datum":"2 μM","type":"nominal"}}},
{"data":{"name":"KT"},"mark":"line","encoding":{"x":{"field":"t","type":"quantitative","axis":null},"y":{"field":"k","type":"quantitative","axis":null},"color":{"datum":"4 μM","type":"nominal"}}}
]},
{"width":210,"height":250,
"title":{"text":"UDP concentration","dx":-23.7,"offset":-24.1},
"layer":[
{"data":{"name":"KT"},"mark":"line","encoding":{
"x":{"field":"t","type":"quantitative","scale":{"domain":[0,30],"nice":false},"axis":{"orient":"bottom","title":"Time (min)","values":[0,10,20,30],"labelPadding":19.5,"titlePadding":8}},
"y":{"field":"k","type":"quantitative","scale":{"domain":[0,350],"nice":false},"axis":{"orient":"left","title":"Number of coacervates","values":[0,100,200,300],"labelPadding":14,"titlePadding":11}},
"color":{"datum":"20 mM","type":"nominal","scale":{"domain":["20 mM","5 mM","2 mM"],"range":["#000000","#ff0000","#0000ff"]},"legend":{"title":null,"legendX":69,"legendY":12,"symbolSize":3844,"clipHeight":24,"labelOffset":5}}}},
{"data":{"name":"B"},"mark":"line","encoding":{
"x":{"field":"t","type":"quantitative","axis":{"orient":"top","labels":false,"values":[0,10,20,30],"title":"b","titleFont":"Liberation Sans","titleFontWeight":"bold","titleFontSize":24,"titleColor":"#000000","titleAngle":0,"titleAlign":"left","titleBaseline":"alphabetic","titleX":-62.7,"titleY":-23.5}},
"y":{"field":"r","type":"quantitative","axis":{"orient":"right","labels":false,"values":[0,100,200,300],"title":null}},
"color":{"datum":"5 mM","type":"nominal"}}},
{"data":{"name":"B"},"mark":"line","encoding":{"x":{"field":"t","type":"quantitative","axis":null},"y":{"field":"b","type":"quantitative","axis":null},"color":{"datum":"2 mM","type":"nominal"}}}
]},
{"width":210,"height":250,
"title":{"text":"Temperature","dx":-26.7,"offset":-25.1},
"layer":[
{"data":{"name":"C"},"mark":"line","encoding":{
"x":{"field":"t","type":"quantitative","scale":{"domain":[0,30],"nice":false},"axis":{"orient":"bottom","title":"Time (min)","values":[0,10,20,30],"labelPadding":19.5,"titlePadding":8}},
"y":{"field":"b","type":"quantitative","scale":{"domain":[0,350],"nice":false},"axis":{"orient":"left","title":"Number of coacervates","values":[0,100,200,300],"labelPadding":14,"titlePadding":11}},
"color":{"datum":"26 ˚C","type":"nominal","scale":{"domain":["26 ˚C","30 ˚C","34 ˚C"],"range":["#0000ff","#000000","#ff0000"]},"legend":{"title":null,"legendX":84,"legendY":12,"symbolSize":3600,"clipHeight":24,"labelOffset":4}}}},
{"data":{"name":"KT"},"mark":"line","encoding":{
"x":{"field":"t","type":"quantitative","axis":{"orient":"top","labels":false,"values":[0,10,20,30],"title":"c","titleFont":"Liberation Sans","titleFontWeight":"bold","titleFontSize":24,"titleColor":"#000000","titleAngle":0,"titleAlign":"left","titleBaseline":"alphabetic","titleX":-69,"titleY":-26}},
"y":{"field":"k","type":"quantitative","axis":{"orient":"right","labels":false,"values":[0,100,200,300],"title":null}},
"color":{"datum":"30 ˚C","type":"nominal"}}},
{"data":{"name":"C"},"mark":"line","encoding":{"x":{"field":"t","type":"quantitative","axis":null},"y":{"field":"r","type":"quantitative","axis":null},"color":{"datum":"34 ˚C","type":"nominal"}}}
]}
],"spacing":112,"bounds":"flush","resolve":{"scale":{"color":"independent"}}},
{"hconcat":[
{"width":210,"height":250,
"title":{"text":"PNPase concentration","dx":-32.7,"offset":-23.1},
"layer":[
{"data":{"name":"D"},"mark":{"type":"errorbar","ticks":true,"size":5,"thickness":1.2,"color":"#00ff00"},"encoding":{"x":{"field":"t","type":"quantitative","scale":{"domain":[0,30],"nice":false,"range":[-6,210]},"axis":null},"y":{"field":"g","type":"quantitative","scale":{"domain":[0,40],"nice":false},"axis":null},"yError":{"field":"ge"}}},
{"data":{"name":"D"},"mark":{"type":"circle","size":14,"color":"#00ff00","opacity":1},"encoding":{
"x":{"field":"t","type":"quantitative","axis":{"orient":"bottom","title":"Time (min)","values":[0,10,20,30],"labelPadding":22,"titlePadding":9}},
"y":{"field":"g","type":"quantitative","axis":{"orient":"left","offset":6,"title":"Cross-sectional area ( μm²)","values":[0,10,20,30,40],"labelPadding":16.3,"titlePadding":9}}}},
{"data":{"name":"D"},"mark":{"type":"errorbar","ticks":true,"size":5,"thickness":1.2,"color":"#0000ff"},"encoding":{"x":{"field":"t","type":"quantitative","axis":null},"y":{"field":"b","type":"quantitative","axis":null},"yError":{"field":"be"}}},
{"data":{"name":"D"},"mark":{"type":"circle","size":14,"color":"#0000ff","opacity":1},"encoding":{
"x":{"field":"t","type":"quantitative","axis":{"orient":"top","labels":false,"values":[0,10,20,30],"title":"d","titleFont":"Liberation Sans","titleFontWeight":"bold","titleFontSize":24,"titleColor":"#000000","titleAngle":0,"titleAlign":"left","titleBaseline":"alphabetic","titleX":-82.7,"titleY":-31}},
"y":{"field":"b","type":"quantitative","axis":{"orient":"right","labels":false,"values":[0,10,20,30,40],"title":null}}}},
{"data":{"name":"D"},"mark":{"type":"errorbar","ticks":true,"size":5,"thickness":1.2,"color":"#ff0000"},"encoding":{"x":{"field":"t","type":"quantitative","axis":null},"y":{"field":"r","type":"quantitative","axis":null},"yError":{"field":"re"}}},
{"data":{"name":"D"},"mark":{"type":"circle","size":14,"color":"#ff0000","opacity":1},"encoding":{"x":{"field":"t","type":"quantitative","axis":null},"y":{"field":"r","type":"quantitative","axis":null}}},
{"data":{"name":"KB"},"mark":{"type":"errorbar","ticks":true,"size":5,"thickness":1.2,"color":"#000000"},"encoding":{"x":{"field":"t","type":"quantitative","axis":null},"y":{"field":"k","type":"quantitative","axis":null},"yError":{"field":"ke"}}},
{"data":{"name":"KB"},"mark":{"type":"circle","size":14,"color":"#000000","opacity":1},"encoding":{"x":{"field":"t","type":"quantitative","axis":null},"y":{"field":"k","type":"quantitative","axis":null}}}
]},
{"width":210,"height":250,
"title":{"text":"UDP concentration","dx":-24.7,"offset":-23.6},
"layer":[
{"data":{"name":"KB"},"mark":{"type":"errorbar","ticks":true,"size":5,"thickness":1.2,"color":"#000000"},"encoding":{"x":{"field":"t","type":"quantitative","scale":{"domain":[0,30],"nice":false,"range":[-6,210]},"axis":null},"y":{"field":"k","type":"quantitative","scale":{"domain":[0,40],"nice":false},"axis":null},"yError":{"field":"ke"}}},
{"data":{"name":"KB"},"mark":{"type":"circle","size":14,"color":"#000000","opacity":1},"encoding":{
"x":{"field":"t","type":"quantitative","axis":{"orient":"bottom","title":"Time (min)","values":[0,10,20,30],"labelPadding":22,"titlePadding":9}},
"y":{"field":"k","type":"quantitative","axis":{"orient":"left","offset":6,"title":"Cross-sectional area ( μm²)","values":[0,10,20,30,40],"labelPadding":16.3,"titlePadding":9}}}},
{"data":{"name":"E"},"mark":{"type":"errorbar","ticks":true,"size":5,"thickness":1.2,"color":"#ff0000"},"encoding":{"x":{"field":"t","type":"quantitative","axis":null},"y":{"field":"r","type":"quantitative","axis":null},"yError":{"field":"re"}}},
{"data":{"name":"E"},"mark":{"type":"circle","size":14,"color":"#ff0000","opacity":1},"encoding":{
"x":{"field":"t","type":"quantitative","axis":{"orient":"top","labels":false,"values":[0,10,20,30],"title":"e","titleFont":"Liberation Sans","titleFontWeight":"bold","titleFontSize":24,"titleColor":"#000000","titleAngle":0,"titleAlign":"left","titleBaseline":"alphabetic","titleX":-61.3,"titleY":-30}},
"y":{"field":"r","type":"quantitative","axis":{"orient":"right","labels":false,"values":[0,10,20,30,40],"title":null}}}},
{"data":{"name":"E"},"mark":{"type":"errorbar","ticks":true,"size":5,"thickness":1.2,"color":"#0000ff"},"encoding":{"x":{"field":"t","type":"quantitative","axis":null},"y":{"field":"b","type":"quantitative","axis":null},"yError":{"field":"be"}}},
{"data":{"name":"E"},"mark":{"type":"circle","size":14,"color":"#0000ff","opacity":1},"encoding":{"x":{"field":"t","type":"quantitative","axis":null},"y":{"field":"b","type":"quantitative","axis":null}}}
]},
{"width":210,"height":250,
"title":{"text":"Temperature","dx":-28.3,"offset":-23.1},
"layer":[
{"data":{"name":"KB"},"mark":{"type":"errorbar","ticks":true,"size":5,"thickness":1.2,"color":"#000000"},"encoding":{"x":{"field":"t","type":"quantitative","scale":{"domain":[0,30],"nice":false,"range":[-6,210]},"axis":null},"y":{"field":"k","type":"quantitative","scale":{"domain":[0,40],"nice":false},"axis":null},"yError":{"field":"ke"}}},
{"data":{"name":"KB"},"mark":{"type":"circle","size":14,"color":"#000000","opacity":1},"encoding":{
"x":{"field":"t","type":"quantitative","axis":{"orient":"bottom","title":"Time (min)","values":[0,10,20,30],"labelPadding":22,"titlePadding":9}},
"y":{"field":"k","type":"quantitative","axis":{"orient":"left","offset":6,"title":"Cross-sectional area ( μm²)","values":[0,10,20,30,40],"labelPadding":16.3,"titlePadding":9}}}},
{"data":{"name":"F"},"mark":{"type":"errorbar","ticks":true,"size":5,"thickness":1.2,"color":"#0000ff"},"encoding":{"x":{"field":"t","type":"quantitative","axis":null},"y":{"field":"b","type":"quantitative","axis":null},"yError":{"field":"be"}}},
{"data":{"name":"F"},"mark":{"type":"circle","size":14,"color":"#0000ff","opacity":1},"encoding":{
"x":{"field":"t","type":"quantitative","axis":{"orient":"top","labels":false,"values":[0,10,20,30],"title":"f","titleFont":"Liberation Sans","titleFontWeight":"bold","titleFontSize":24,"titleColor":"#000000","titleAngle":0,"titleAlign":"left","titleBaseline":"alphabetic","titleX":-70,"titleY":-31}},
"y":{"field":"b","type":"quantitative","axis":{"orient":"right","labels":false,"values":[0,10,20,30,40],"title":null}}}},
{"data":{"name":"F"},"mark":{"type":"errorbar","ticks":true,"size":5,"thickness":1.2,"color":"#ff0000"},"encoding":{"x":{"field":"t","type":"quantitative","axis":null},"y":{"field":"r","type":"quantitative","axis":null},"yError":{"field":"re"}}},
{"data":{"name":"F"},"mark":{"type":"circle","size":14,"color":"#ff0000","opacity":1},"encoding":{"x":{"field":"t","type":"quantitative","axis":null},"y":{"field":"r","type":"quantitative","axis":null}}}
]}
],"spacing":112,"bounds":"flush"}
]
}
